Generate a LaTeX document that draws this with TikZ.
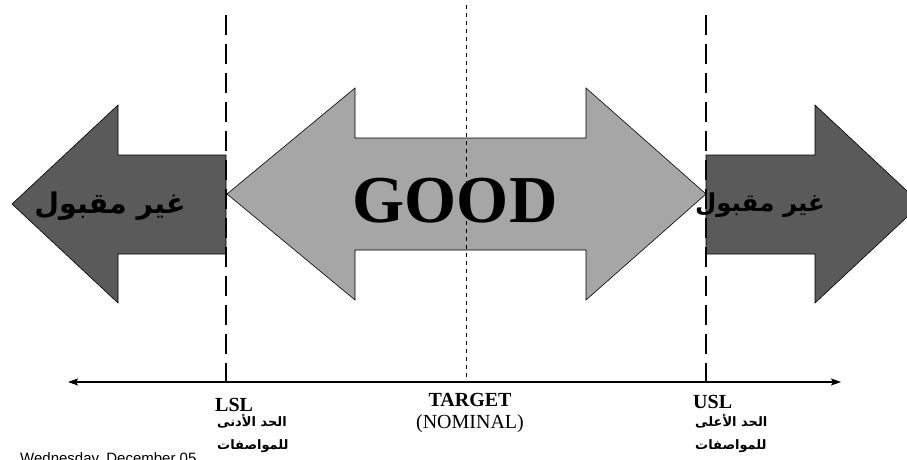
\documentclass[tikz,border=0pt]{standalone}
\usepackage{fontspec}
\setmainfont{Liberation Serif}
\newfontfamily\arabicfont[Script=Arabic]{DejaVu Sans}
\newfontfamily\datefont{Liberation Sans}
\TeXXeTstate=1
\usetikzlibrary{arrows.meta}
\definecolor{badgray}{HTML}{5A5A5A}
\definecolor{goodgray}{HTML}{A6A6A6}
\tikzset{
  badarrow/.style={fill=badgray,draw=black,line width=0.6pt,line join=miter},
  goodarrow/.style={fill=goodgray,draw=black,line width=0.6pt,line join=miter},
  limitline/.style={line width=2pt,dash pattern=on 20pt off 9pt},
  targetline/.style={line width=0.8pt,dash pattern=on 4pt off 4pt},
  axisline/.style={line width=1.5pt,{Stealth[length=10pt,width=7pt,inset=2pt]}-{Stealth[length=10pt,width=7pt,inset=2pt]}},
  badtext/.style={inner sep=0pt,anchor=base},
  lbl/.style={inner sep=0pt,font=\fontsize{20}{20}\selectfont},
  arlbl/.style={inner sep=0pt,font=\arabicfont\bfseries\fontsize{13}{13}\selectfont}
}
\begin{document}
\begin{tikzpicture}[x=1pt,y=-1pt]
\useasboundingbox (0,0) rectangle (907,460);
\clip (0,0) rectangle (907,460);
% GOOD arrow
\draw[goodarrow] (227,194) -- (355,88) -- (355,138) -- (586,138) -- (586,88) -- (706,194)
  -- (586,300) -- (586,250) -- (355,250) -- (355,300) -- cycle;
% left bad arrow
\draw[badarrow] (12,204) -- (118,105) -- (118,155) -- (226,155) -- (226,254) -- (118,254) -- (118,303) -- cycle;
% right bad arrow
\draw[badarrow] (706,155) -- (815,155) -- (815,105) -- (921,204) -- (815,303) -- (815,254) -- (706,254) -- cycle;
% vertical lines
\coordinate (lslT) at (226,15);
\coordinate (lslB) at (226,382);
\coordinate (uslT) at (706,15);
\coordinate (uslB) at (706,382);
\coordinate (tgtT) at (466,5);
\coordinate (tgtB) at (466,382);
\draw[limitline] (lslT) -- (lslB);
\draw[limitline] (uslT) -- (uslB);
\draw[targetline] (tgtT) -- (tgtB);
% GOOD text
\node[inner sep=0pt,anchor=base,font=\fontsize{67}{67}\selectfont\bfseries] (good) at (455,222) {GOOD};
% bad texts
\node[badtext,font=\arabicfont\bfseries\fontsize{28.5}{28.5}\selectfont] (badL) at (110,213) {\beginR غير مقبول\endR};
\node[badtext,font=\arabicfont\bfseries\fontsize{24.5}{24.5}\selectfont] (badR) at (760,211) {\beginR غير مقبول\endR};
% axis
\coordinate (axL) at (68,382);
\coordinate (axR) at (841,382);
\draw[axisline] (axL) -- (axR);
% labels
\node[lbl,anchor=base west,font=\fontsize{20}{20}\selectfont\bfseries] (lsl) at (215,411) {LSL};
\node[arlbl,anchor=base west] (lslA1) at (217,426) {\beginR الحد الأدنى\endR};
\node[arlbl,anchor=base west] (lslA2) at (217,449) {\beginR للمواصفات\endR};
\node[lbl,anchor=base,font=\fontsize{20}{20}\selectfont\bfseries] (tgt) at (470,406) {TARGET};
\node[lbl,anchor=base] (nom) at (470,428) {(NOMINAL)};
\node[lbl,anchor=base west,font=\fontsize{20}{20}\selectfont\bfseries] (usl) at (693,408) {USL};
\node[arlbl,anchor=base west] (uslA1) at (695,426) {\beginR الحد الأعلى\endR};
\node[arlbl,anchor=base west] (uslA2) at (695,449) {\beginR للمواصفات\endR};
% date
\node[inner sep=0pt,anchor=base west,font=\datefont\fontsize{15}{15}\selectfont] (date) at (20,463) {Wednesday, December 05};
\end{tikzpicture}
\end{document}
